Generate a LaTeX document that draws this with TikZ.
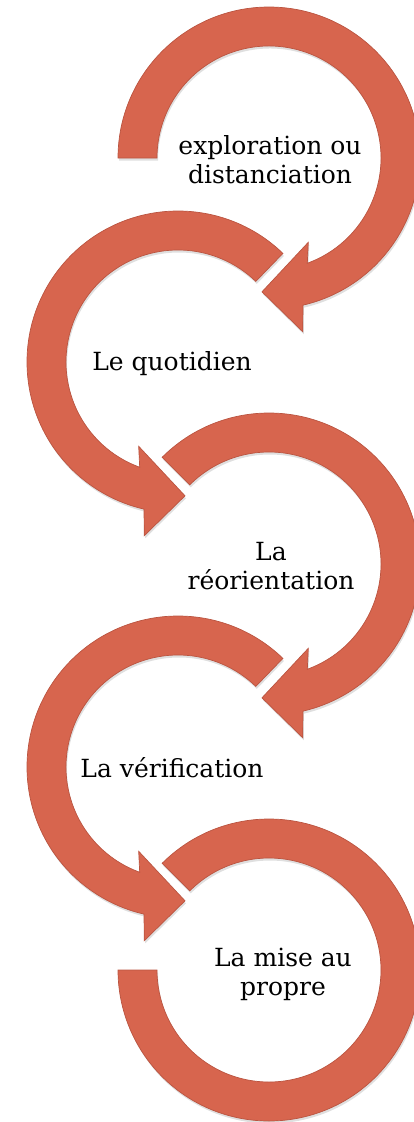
\documentclass[tikz,border=0pt]{standalone}
\usepackage{fontspec}
\setmainfont{DejaVu Serif}
\usepackage{tikz}
\usetikzlibrary{shadows}
\definecolor{arcfill}{RGB}{215,101,78}
\definecolor{arcline}{RGB}{186,84,64}

\begin{document}
\begin{tikzpicture}[x=1pt,y=1pt,
    arcband/.style={fill=arcfill, draw=arcline, line width=0.7pt, line join=miter,
      drop shadow={shadow xshift=1pt, shadow yshift=-2.5pt, opacity=0.25}},
    steptext/.style={align=center, inner sep=0pt,
      font=\fontsize{25}{29}\selectfont}]
  \useasboundingbox (0,0) rectangle (414,-1122);
  \begin{scope}
    \coordinate (c1) at (269,-158);
    \coordinate (c2) at (178,-362);
    \coordinate (c3) at (269,-564);
    \coordinate (c4) at (178,-767);
    \coordinate (c5) at (269,-970);
    % clockwise arrows on the right
    \draw[arcband, shift={(c1)}] (180:151) arc[start angle=180, end angle=-77, radius=151]
      -- (-79:177) -- (-93:134) -- (-65:93) -- (-70:112)
      arc[start angle=-70, end angle=180, radius=112] -- cycle;
    \draw[arcband, shift={(c3)}] (135:151) arc[start angle=135, end angle=-77, radius=151]
      -- (-79:177) -- (-93:134) -- (-65:93) -- (-70:112)
      arc[start angle=-70, end angle=135, radius=112] -- cycle;
    \draw[arcband, shift={(c5)}] (135:151) arc[start angle=135, end angle=-180, radius=151]
      -- (180:112) arc[start angle=-180, end angle=135, radius=112] -- cycle;
    % counter-clockwise arrows on the left
    \draw[arcband, shift={(c2)}] (46:151) arc[start angle=46, end angle=257, radius=151]
      -- (259:177) -- (273:134) -- (245:93) -- (250:112)
      arc[start angle=250, end angle=46, radius=112] -- cycle;
    \draw[arcband, shift={(c4)}] (46:151) arc[start angle=46, end angle=257, radius=151]
      -- (259:177) -- (273:134) -- (245:93) -- (250:112)
      arc[start angle=250, end angle=46, radius=112] -- cycle;
    \node[steptext] (t1) at (270,-160) {exploration ou\\distanciation};
    \node[steptext] (t2) at (172,-364) {Le quotidien};
    \node[steptext] (t3) at (271,-566) {La\\réorientation};
    \node[steptext] (t4) at (172,-768) {La vérification};
    \node[steptext] (t5) at (283,-974) {La mise au\\propre};
  \end{scope}
\end{tikzpicture}
\end{document}
